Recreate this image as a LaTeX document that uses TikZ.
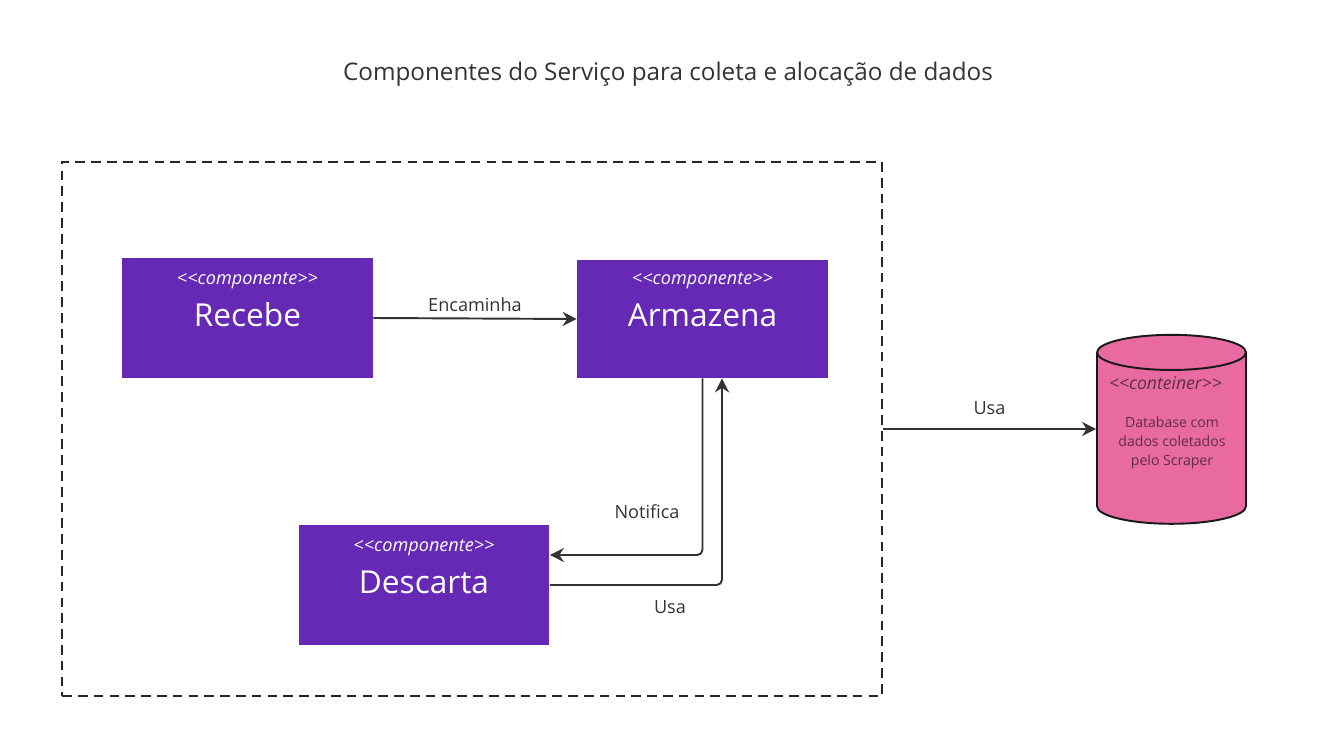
\documentclass[tikz,border=0pt]{standalone}
\usepackage{fontspec}
\setmainfont{Open Sans}
\usetikzlibrary{shapes.geometric, arrows.meta}

\definecolor{roxo}{RGB}{101,41,181}
\definecolor{rosa}{RGB}{232,106,160}
\definecolor{linha}{RGB}{51,51,51}
\definecolor{textodb}{RGB}{95,45,75}

\newcommand{\estereo}[1]{{<}{<}#1{>}{>}}

\tikzset{
    componente/.style = {rectangle, fill=roxo, text=white,
        minimum width = 5.02cm, minimum height = 2.4cm},
    estereotipo/.style = {text=white, font=\fontsize{10.3}{12}\selectfont\itshape},
    nome/.style = {text=white, font=\fontsize{18}{21}\selectfont},
    fluxo/.style = {draw=linha, line width=1.1pt, -{Stealth[length=8pt,width=8pt]}},
    rotulo/.style = {text=linha, font=\fontsize{10.3}{12}\selectfont},
}

\begin{document}
\begin{tikzpicture}[x=0.02cm, y=-0.02cm]
        \useasboundingbox (0,0) rectangle (1322,756);

        \node (titulo) at (668,74) [text=linha, font=\fontsize{13.8}{16}\selectfont]
        {Componentes do Serviço para coleta e alocação de dados};

        % limite do servico
        \draw (472,429) node(srv) [draw=black!85, line width=1.1pt,
            dash pattern=on 5.5pt off 3.5pt,
            minimum width = 16.4cm,
            minimum height = 10.68cm] {};

        % componentes
        \draw (247.5,318) node(rec) [componente] {};
        \draw (702.5,319) node(arm) [componente, minimum height = 2.36cm] {};
        \draw (424,585) node(desc) [componente] {};

        \node[estereotipo] at ([yshift=-0.46cm]rec.north) {\estereo{componente}};
        \node[nome] at ([yshift=-1.14cm]rec.north) {Recebe};
        \node[estereotipo] at ([yshift=-0.42cm]arm.north) {\estereo{componente}};
        \node[nome] at ([yshift=-1.12cm]arm.north) {Armazena};
        \node[estereotipo] at ([yshift=-0.46cm]desc.north) {\estereo{componente}};
        \node[nome] at ([yshift=-1.16cm]desc.north) {Descarta};

        % banco de dados
        \draw (1171.5,442) node(db) [draw=black!90, line width=1.1pt,
            fill=rosa,
            cylinder, shape border rotate=90, aspect=3,
            minimum width = 2.98cm,
            minimum height = 3.78cm] {};
        \node[text=textodb, font=\fontsize{10}{12}\selectfont\itshape] at (1165.5,383) {\estereo{conteiner}};
        \node[text=textodb, align=center, font=\fontsize{8}{11}\selectfont] at (1172,443)
        {Database com\\dados coletados\\pelo Scraper};

        % conexoes
        \draw[fluxo] (rec.east) -- (arm.west) node[midway, above, rotulo] {Encaminha};
        \draw[fluxo, rounded corners=3pt] (arm.south) |- ([yshift=0.6cm]desc.east);
        \draw[fluxo, rounded corners=3pt] (desc.east) -| ([xshift=0.39cm]arm.south);
        \draw[fluxo] (srv.east) -- (srv.east -| db.west) node[midway, above=4pt, rotulo] {Usa};
        \node[rotulo] at (647,512) {Notifica};
        \node[rotulo] at (670,607) {Usa};
    \end{tikzpicture}
\end{document}
